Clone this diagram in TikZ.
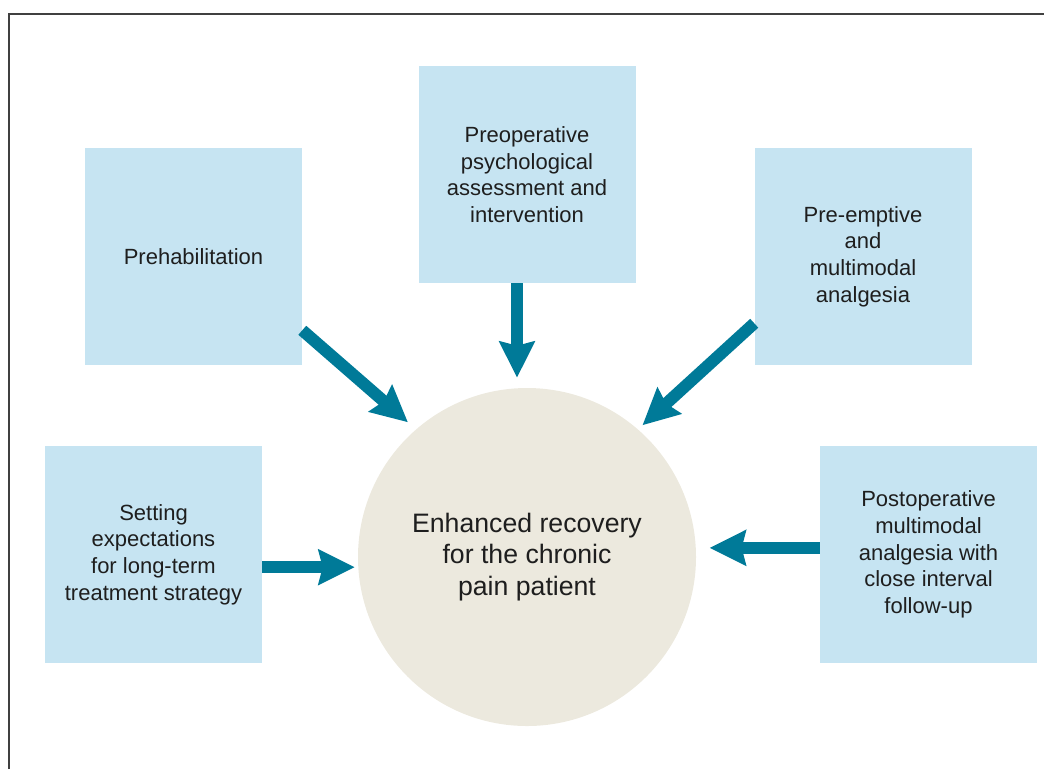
\documentclass[tikz,border=0pt]{standalone}
\usepackage{fontspec}
\setmainfont{Liberation Sans}
\usetikzlibrary{arrows.meta}
\definecolor{boxblue}{RGB}{198,228,242}
\definecolor{hubbeige}{RGB}{236,233,222}
\definecolor{flowteal}{RGB}{0,122,152}
\definecolor{inkgray}{RGB}{30,30,30}
\begin{document}
\begin{tikzpicture}[x=0.75pt,y=-0.75pt,
  factor/.style={fill=boxblue, minimum width=162.75pt, minimum height=162.75pt,
    inner sep=0pt, align=center, text=inkgray, font=\fontsize{16.5}{20}\selectfont},
  hubnode/.style={circle, fill=hubbeige, minimum size=253.5pt, inner sep=0pt,
    align=center, text=inkgray, font=\fontsize{20}{23.5}\selectfont},
  flow/.style={draw=flowteal, line width=9pt,
    -{Stealth[length=27pt,width=26pt,inset=3pt]}}]
\useasboundingbox (0,0) rectangle (1044,769);

% frame
\draw[line width=1.2pt, black!75] (9,769) -- (9,14) -- (1044,14);

% centre
\node[hubnode] (hub) at (527,557) {Enhanced recovery\\for the chronic\\pain patient};

% surrounding factors
\node[factor] (prehab) at (193.5,256.5) {Prehabilitation};
\node[factor] (preop) at (527,174.5) {Preoperative\\psychological\\assessment and\\intervention};
\node[factor] (preempt) at (863,256.5) {Pre-emptive\\and\\multimodal\\analgesia};
\node[factor] (setting) at (153.5,554.5) {Setting\\expectations\\for long-term\\treatment strategy};
\node[factor] (postop) at (928.5,554.5) {Postoperative\\multimodal\\analgesia with\\close interval\\follow-up};

% arrows into the centre
\draw[flow, shorten >=8pt] ([yshift=26.25pt]prehab.south east) -- (hub.131);
\draw[flow, shorten >=7.5pt] ([xshift=-7.5pt]preop.south) -- ([xshift=-7.5pt]hub.north);
\draw[flow, shorten >=4.5pt] ([yshift=31.5pt]preempt.south west) -- (hub.49);
\draw[flow, shorten >=2.25pt] ([yshift=-9.5pt]setting.east) -- ([yshift=-9.5pt]setting.east -| hub.west);
\draw[flow, shorten >=10pt] ([yshift=5pt]postop.west) -- ([yshift=5pt]postop.west -| hub.east);
\end{tikzpicture}
\end{document}
